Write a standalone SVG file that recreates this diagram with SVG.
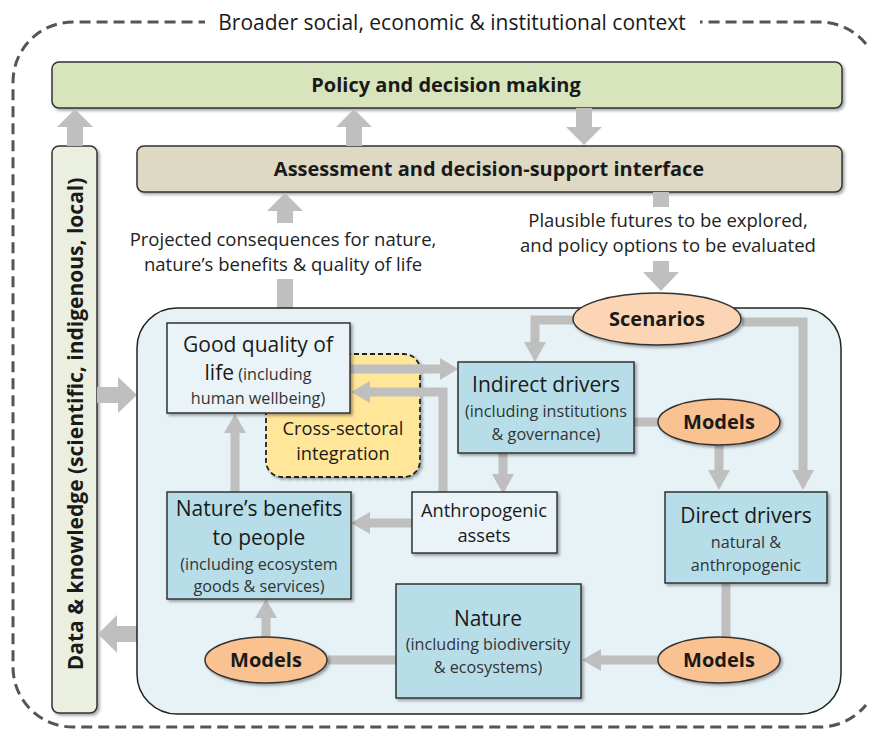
<svg xmlns="http://www.w3.org/2000/svg" width="869" height="731" viewBox="0 0 869 731">
<defs>
<filter id="sh" x="-10%" y="-10%" width="130%" height="130%">
<feDropShadow dx="2" dy="2" stdDeviation="1.5" flood-color="#000" flood-opacity="0.35"/>
</filter>
<style>
text{font-family:"Open Sans","Noto Sans","Liberation Sans",sans-serif;fill:#1a1a1a;text-anchor:middle}
.b{font-weight:bold}
.big{font-size:21px}
.sm{font-size:16.2px;fill:#333}
.lbl{font-size:18.5px;fill:#222}
.mid{font-size:18.3px}
.ov{font-size:20px;font-weight:bold}
.box{stroke:#333;stroke-width:1.5;filter:url(#sh)}
.blue{fill:#b7dee8}
.ell{stroke:#333;stroke-width:1.5;filter:url(#sh)}
.con{fill:none;stroke:#bfbfbf;stroke-width:9}
.ah{fill:#bfbfbf}
.thick{fill:#bfbfbf}
</style>
</defs>
<rect width="869" height="731" fill="#fff"/>

<g id="context">
<path d="M866,44 A60,60 0 0 0 820,22 H73 A60,60 0 0 0 13,82 V667 A60,60 0 0 0 73,727 H820 A60,60 0 0 0 866,705" fill="none" stroke="#555" stroke-width="3" stroke-dasharray="11,6"/>
<rect x="205" y="8" width="495" height="28" fill="#fff"/>
<text x="452" y="30" style="font-size:21px">Broader social, economic &amp; institutional context</text>
</g>

<g id="policy">
<rect class="box" x="52" y="62" width="790" height="46" rx="7" fill="#d7e4bc"/>
<text class="b" x="446" y="92" style="font-size:20px">Policy and decision making</text>
</g>

<g id="assessment">
<rect class="box" x="137" y="146" width="705" height="46" rx="7" fill="#ddd9c4"/>
<text class="b" x="489" y="176" style="font-size:20px">Assessment and decision-support interface</text>
</g>

<g id="data">
<rect class="box" x="52" y="146" width="45" height="567" rx="7" fill="#ebefdf"/>
<text class="b" transform="translate(83,424) rotate(-90)" style="font-size:21px">Data &amp; knowledge (scientific, indigenous, local)</text>
</g>

<g id="labels">
<text class="lbl" x="283" y="246">Projected consequences for nature,</text>
<text class="lbl" x="283" y="271">nature’s benefits &amp; quality of life</text>
<text class="lbl" x="668" y="227">Plausible futures to be explored,</text>
<text class="lbl" x="668" y="252">and policy options to be evaluated</text>
</g>

<g id="thick-arrows">
<polygon class="thick" points="67,146 67,127 57,127 75,109 93,127 83,127 83,146"/>
<polygon class="thick" points="346,146 346,127 336,127 354,109 372,127 362,127 362,146"/>
<polygon class="thick" points="576,108 576,127 566,127 584,145 602,127 592,127 592,108"/>
<polygon class="thick" points="277,223 277,211 267,211 285,193 303,211 293,211 293,223"/>
<rect class="thick" x="277" y="279" width="16" height="30"/>
<rect class="thick" x="653" y="192" width="16" height="15"/>
<polygon class="thick" points="653,261 653,272 643,272 661,291 679,272 669,272 669,261"/>
<polygon class="thick" points="97,387 118,387 118,377 137,395 118,413 118,403 97,403"/>
<polygon class="thick" points="137,626 117,626 117,615 98,634 117,653 117,642 137,642"/>
</g>

<g id="system">
<rect x="137" y="308" width="704" height="406" rx="40" fill="#e7f2f7" stroke="#222" stroke-width="1.5"/>
</g>

<g id="cross-sectoral">
<rect x="266" y="354" width="154" height="123" rx="16" fill="#ffe699" stroke="#222" stroke-width="1.8" stroke-dasharray="5,3" filter="url(#sh)"/>
<text class="mid" x="343" y="435">Cross-sectoral</text>
<text class="mid" x="343" y="460">integration</text>
</g>

<g id="connectors">
<path class="con" d="M573,320 H535 V343"/>
<polygon class="ah" points="524,342 546,342 535,362"/>
<path class="con" d="M742,322 H803 V471"/>
<polygon class="ah" points="792,470 814,470 803,490"/>
<path class="con" d="M719,445 V471"/>
<polygon class="ah" points="708,470 730,470 719,490"/>
<path class="con" d="M634,422 H658"/>
<path class="con" d="M350,369 H441"/>
<polygon class="ah" points="440,358 440,380 458,369"/>
<path class="con" d="M443,494 V392 H369"/>
<polygon class="ah" points="370,381 370,403 351,392"/>
<path class="con" d="M503,453 V475"/>
<polygon class="ah" points="492,474 514,474 503,494"/>
<path class="con" d="M412,523 H369"/>
<polygon class="ah" points="370,512 370,534 351,523"/>
<path class="con" d="M235,492 V432"/>
<polygon class="ah" points="224,433 246,433 235,414"/>
<path class="con" d="M266,637 V617"/>
<polygon class="ah" points="255,618 277,618 266,599"/>
<path class="con" d="M328,660 H396"/>
<path class="con" d="M726,583 V638"/>
<path class="con" d="M658,660 H600"/>
<polygon class="ah" points="601,649 601,671 582,660"/>
</g>

<g id="good-quality">
<rect class="box" x="167" y="323" width="183" height="90" fill="#eaf4f8"/>
<text class="big" x="258" y="352">Good quality of</text>
<text x="258" y="380"><tspan style="font-size:21px">life</tspan><tspan style="font-size:16.2px;fill:#333"> (including</tspan></text>
<text class="sm" x="258" y="404">human wellbeing)</text>
</g>

<g id="indirect-drivers">
<rect class="box blue" x="458" y="362" width="176" height="91"/>
<text class="big" x="546" y="392">Indirect drivers</text>
<text class="sm" x="546" y="417">(including institutions</text>
<text class="sm" x="546" y="440">&amp; governance)</text>
</g>

<g id="scenarios">
<ellipse class="ell" cx="657" cy="319" rx="84" ry="26" fill="#fcd5b5"/>
<text class="ov" x="657" y="326">Scenarios</text>
</g>

<g id="models-1">
<ellipse class="ell" cx="719" cy="422" rx="61" ry="23" fill="#fac191"/>
<text class="ov" x="719" y="429">Models</text>
</g>

<g id="anthropogenic-assets">
<rect class="box" x="412" y="492" width="145" height="61" fill="#eaf4f8"/>
<text class="mid" x="484" y="517">Anthropogenic</text>
<text class="mid" x="484" y="542">assets</text>
</g>

<g id="natures-benefits">
<rect class="box blue" x="167" y="492" width="184" height="107"/>
<text class="big" x="259" y="516">Nature’s benefits</text>
<text class="big" x="259" y="545">to people</text>
<text class="sm" x="259" y="570">(including ecosystem</text>
<text class="sm" x="259" y="592">goods &amp; services)</text>
</g>

<g id="direct-drivers">
<rect class="box blue" x="665" y="492" width="162" height="91"/>
<text class="big" x="746" y="523">Direct drivers</text>
<text class="sm" x="746" y="548">natural &amp;</text>
<text class="sm" x="746" y="571">anthropogenic</text>
</g>

<g id="nature">
<rect class="box blue" x="396" y="584" width="185" height="114"/>
<text class="big" x="488" y="626">Nature</text>
<text class="sm" x="488" y="650">(including biodiversity</text>
<text class="sm" x="488" y="673">&amp; ecosystems)</text>
</g>

<g id="models-2">
<ellipse class="ell" cx="266" cy="660" rx="61" ry="23" fill="#fac191"/>
<text class="ov" x="266" y="667">Models</text>
</g>

<g id="models-3">
<ellipse class="ell" cx="719" cy="660" rx="61" ry="23" fill="#fac191"/>
<text class="ov" x="719" y="667">Models</text>
</g>
</svg>
